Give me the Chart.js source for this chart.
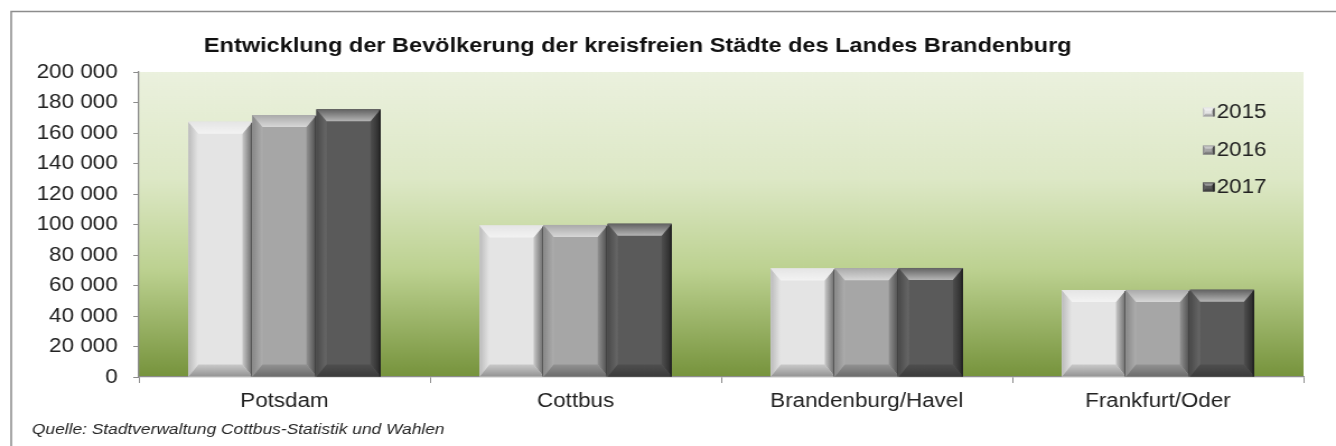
<!DOCTYPE html>
<html lang="de">
<head>
<meta charset="utf-8">
<title>Entwicklung der Bevölkerung der kreisfreien Städte des Landes Brandenburg</title>
<script src="https://cdn.jsdelivr.net/npm/chart.js@4/dist/chart.umd.min.js"></script>
<style>
  html, body { margin: 0; padding: 0; background: #ffffff; overflow: hidden; }
  #wrap { width: 1336px; height: 446px; overflow: hidden; }
  /* the drawing is made on a narrower canvas and widened, giving the wide lettering */
  #c { display: block; transform: scaleX(1.11986); transform-origin: 0 0; }
</style>
</head>
<body>
<div id="wrap"><canvas id="c" width="1193" height="446"></canvas></div>
<script>
// Categories and series
const cities = ['Potsdam', 'Cottbus', 'Brandenburg/Havel', 'Frankfurt/Oder'];
const years = ['2015', '2016', '2017'];
const pop2015 = [167400, 99300, 71200, 57000];
const pop2016 = [171800, 99700, 71300, 57100];
const pop2017 = [175500, 100500, 71500, 57200];
const barColors = ['#e4e4e4', '#a6a6a6', '#5a5a5a'];

// Value axis
const yMin = 0;
const yMax = 200000;
const yStep = 20000;

const titleText = 'Entwicklung der Bevölkerung der kreisfreien Städte des Landes Brandenburg';
const sourceText = 'Quelle: Stadtverwaltung Cottbus-Statistik und Wahlen';

const FONT = '"Liberation Sans", Arial, sans-serif';

function fmtThousands(v) {
  return String(v).replace(/\B(?=(\d{3})+(?!\d))/g, ' ');
}

// mix a hex colour toward white (f > 0) or black (f < 0)
function shade(hex, f) {
  const n = parseInt(hex.slice(1), 16);
  let r = (n >> 16) & 255, g = (n >> 8) & 255, b = n & 255;
  const t = f < 0 ? 0 : 255, p = Math.abs(f);
  r = Math.round((t - r) * p + r);
  g = Math.round((t - g) * p + g);
  b = Math.round((t - b) * p + b);
  return 'rgb(' + r + ',' + g + ',' + b + ')';
}

// bevelled block: face plus four slanted facets
function bevelBox(ctx, x0, y0, x1, y1, face, bx, by) {
  const h = y1 - y0;
  by = Math.min(by, h / 2);
  bx = Math.min(bx, (x1 - x0) / 2);
  ctx.save();
  ctx.fillStyle = face;
  ctx.fillRect(x0, y0, x1 - x0, h);

  // left facet
  let g = ctx.createLinearGradient(x0, 0, x0 + bx, 0);
  g.addColorStop(0, shade(face, -0.18));
  g.addColorStop(1, shade(face, 0.08));
  ctx.fillStyle = g;
  ctx.beginPath();
  ctx.moveTo(x0, y0); ctx.lineTo(x0 + bx, y0 + by); ctx.lineTo(x0 + bx, y1 - by); ctx.lineTo(x0, y1);
  ctx.closePath(); ctx.fill();

  // right facet
  g = ctx.createLinearGradient(x1 - bx, 0, x1, 0);
  g.addColorStop(0, shade(face, -0.12));
  g.addColorStop(1, shade(face, -0.55));
  ctx.fillStyle = g;
  ctx.beginPath();
  ctx.moveTo(x1, y0); ctx.lineTo(x1 - bx, y0 + by); ctx.lineTo(x1 - bx, y1 - by); ctx.lineTo(x1, y1);
  ctx.closePath(); ctx.fill();

  // bottom facet
  g = ctx.createLinearGradient(0, y1 - by, 0, y1);
  g.addColorStop(0, shade(face, -0.12));
  g.addColorStop(1, shade(face, -0.35));
  ctx.fillStyle = g;
  ctx.beginPath();
  ctx.moveTo(x0, y1); ctx.lineTo(x0 + bx, y1 - by); ctx.lineTo(x1 - bx, y1 - by); ctx.lineTo(x1, y1);
  ctx.closePath(); ctx.fill();

  // top facet
  g = ctx.createLinearGradient(0, y0, 0, y0 + by);
  g.addColorStop(0, shade(face, 0.05));
  g.addColorStop(1, shade(face, 0.55));
  ctx.fillStyle = g;
  ctx.beginPath();
  ctx.moveTo(x0, y0); ctx.lineTo(x1, y0); ctx.lineTo(x1 - bx, y0 + by); ctx.lineTo(x0 + bx, y0 + by);
  ctx.closePath(); ctx.fill();

  // dark outer edge on the right
  ctx.strokeStyle = shade(face, -0.65);
  ctx.lineWidth = 1.2;
  ctx.beginPath();
  ctx.moveTo(x1 - 0.6, y0 + 1); ctx.lineTo(x1 - 0.6, y1);
  ctx.stroke();
  ctx.restore();
}

// page background, plot backdrop
const backdropPlugin = {
  id: 'backdrop',
  beforeDraw(chart) {
    const { ctx, chartArea: a } = chart;
    ctx.save();
    ctx.fillStyle = '#ffffff';
    ctx.fillRect(0, 0, chart.width, chart.height);
    const g = ctx.createLinearGradient(0, a.top, 0, a.bottom);
    g.addColorStop(0, '#ebf1de');
    g.addColorStop(0.35, '#dde8c6');
    g.addColorStop(0.65, '#bcd190');
    g.addColorStop(1, '#76933c');
    ctx.fillStyle = g;
    ctx.fillRect(a.left, a.top, a.right - a.left, a.bottom - a.top);
    ctx.restore();
  }
};

// bevel effect on every bar, using the bar elements' own geometry
const bevelPlugin = {
  id: 'bevel',
  afterDatasetsDraw(chart) {
    const ctx = chart.ctx;
    chart.data.datasets.forEach((ds, i) => {
      const meta = chart.getDatasetMeta(i);
      meta.data.forEach(el => {
        const p = el.getProps(['x', 'y', 'base', 'width'], true);
        const x0 = p.x - p.width / 2, x1 = p.x + p.width / 2;
        const top = Math.min(p.y, p.base), bottom = Math.max(p.y, p.base);
        bevelBox(ctx, x0, top, x1, bottom, ds.backgroundColor, 9, 12);
      });
    });
  }
};

// title, legend, source line and frame
const decorPlugin = {
  id: 'decor',
  afterDraw(chart) {
    const ctx = chart.ctx;
    ctx.save();

    // frame: top and left edges
    ctx.strokeStyle = '#8c8c8c';
    ctx.lineWidth = 1.5;
    ctx.beginPath();
    ctx.moveTo(chart.width, 11.5);
    ctx.lineTo(10, 11.5);
    ctx.lineTo(10, chart.height);
    ctx.stroke();

    // title
    ctx.fillStyle = '#111111';
    ctx.font = 'bold 21px ' + FONT;
    ctx.textAlign = 'center';
    ctx.textBaseline = 'middle';
    ctx.fillText(titleText, 569.5, 46);

    // source line
    ctx.fillStyle = '#262626';
    ctx.font = 'italic 15.5px ' + FONT;
    ctx.textAlign = 'left';
    ctx.fillText(sourceText, 28.5, 430);

    // legend
    const legendY = [112, 150, 187];
    ctx.font = '20px ' + FONT;
    chart.data.datasets.forEach((ds, i) => {
      const cy = legendY[i];
      bevelBox(ctx, 1074, cy - 4.5, 1084.5, cy + 4.5, ds.backgroundColor, 2.5, 3);
      ctx.fillStyle = '#222222';
      ctx.textAlign = 'left';
      ctx.textBaseline = 'middle';
      ctx.fillText(ds.label, 1086.5, cy + 0.5);
    });
    ctx.restore();
  }
};

const ctx = document.getElementById('c').getContext('2d');
new Chart(ctx, {
  type: 'bar',
  data: {
    labels: cities,
    datasets: [
      { label: years[0], data: pop2015, backgroundColor: barColors[0] },
      { label: years[1], data: pop2016, backgroundColor: barColors[1] },
      { label: years[2], data: pop2017, backgroundColor: barColors[2] }
    ]
  },
  options: {
    responsive: false,
    animation: false,
    devicePixelRatio: 1,
    layout: { padding: { top: 72, right: 29, bottom: 0, left: 0 } },
    datasets: {
      bar: { categoryPercentage: 0.66, barPercentage: 1.0, borderWidth: 0 }
    },
    plugins: {
      legend: { display: false },
      title: { display: false },
      tooltip: { enabled: false }
    },
    scales: {
      x: {
        grid: {
          display: true, drawOnChartArea: false, drawTicks: true,
          tickLength: 6, color: '#8c8c8c', offset: true
        },
        border: { display: true, color: '#8c8c8c', width: 1.3 },
        ticks: {
          color: '#222222', padding: 6,
          font: { family: FONT, size: 20 },
          maxRotation: 0, autoSkip: false
        },
        afterFit(scale) { scale.height = 69; }
      },
      y: {
        min: yMin, max: yMax,
        grid: {
          display: true, drawOnChartArea: false, drawTicks: true,
          tickLength: 5, color: '#8c8c8c'
        },
        border: { display: true, color: '#8c8c8c', width: 1.3 },
        ticks: {
          stepSize: yStep, color: '#222222', padding: 14,
          font: { family: FONT, size: 20 },
          callback: v => fmtThousands(v)
        },
        afterFit(scale) { scale.width = 124; }
      }
    }
  },
  plugins: [backdropPlugin, bevelPlugin, decorPlugin]
});
</script>
</body>
</html>
